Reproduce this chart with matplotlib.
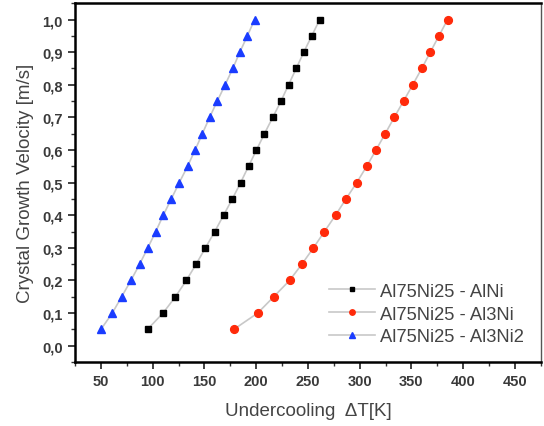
import numpy as np
import matplotlib.pyplot as plt
from matplotlib.ticker import MultipleLocator

plt.rcParams['font.family'] = ['Liberation Sans', 'DejaVu Sans']

# crystal growth velocity [m/s]
velocity = [0.05, 0.10, 0.15, 0.20, 0.25, 0.30, 0.35, 0.40, 0.45, 0.50,
            0.55, 0.60, 0.65, 0.70, 0.75, 0.80, 0.85, 0.90, 0.95, 1.00]

# undercooling dT [K] for each phase
dT_alni = [95, 110, 122, 132.5, 142, 151, 160, 168.5, 177, 185,
           192.6, 200.3, 208, 216, 224, 231.3, 238.7, 246, 253.7, 261.4]
dT_al3ni = [178.5, 201.5, 217, 232.3, 244.2, 255.4, 266, 276.7, 286.8, 297.2,
            306.8, 315.8, 324.7, 333.4, 342.4, 351.3, 360, 368.3, 376.6, 385]
dT_al3ni2 = [50, 61, 70, 79, 87.4, 95.3, 103, 110.2, 118, 125.7,
             133.7, 141, 148, 155, 162.4, 170, 177.4, 184.2, 191.5, 198.5]

labels = ["Al75Ni25 - AlNi", "Al75Ni25 - Al3Ni", "Al75Ni25 - Al3Ni2"]

fig = plt.figure(figsize=(5.44, 4.27), dpi=100)
ax = fig.add_axes([0.138, 0.15, 0.856, 0.84])

line_kw = dict(color="#c8c8c8", lw=1.2)
ax.plot(dT_alni, velocity, **line_kw, marker="s", ms=5, mfc="black", mec="black", label=labels[0])
ax.plot(dT_al3ni, velocity, **line_kw, marker="o", ms=5.6, mfc="#ff2a0a", mec="#ff2a0a", label=labels[1])
ax.plot(dT_al3ni2, velocity, **line_kw, marker="^", ms=6, mfc="#1a3cff", mec="#1a3cff", label=labels[2])

ax.set_xlim(25, 475)
ax.set_ylim(-0.05, 1.05)
ax.xaxis.set_major_locator(MultipleLocator(50))
ax.xaxis.set_minor_locator(MultipleLocator(25))
ax.yaxis.set_major_locator(MultipleLocator(0.1))
ax.yaxis.set_minor_locator(MultipleLocator(0.05))
ax.yaxis.set_major_formatter(lambda v, p: f"{v:.1f}".replace(".", ","))

ax.tick_params(which="major", direction="out", length=5, width=1.3, colors="#333333",
               labelsize=10.5, labelcolor="#3a3a3a", top=False, right=False, pad=4)
ax.tick_params(which="minor", direction="out", length=3, width=1.0, colors="#333333",
               top=False, right=False)
for lbl in ax.get_xticklabels() + ax.get_yticklabels():
    lbl.set_fontweight("bold")

for s in ["left", "bottom", "top"]:
    ax.spines[s].set_linewidth(1.8)
ax.spines["right"].set_linewidth(1.0)
ax.spines["right"].set_color("#555555")

ax.set_xlabel("Undercooling  \u0394T[K]", fontsize=13.5, color="#444444", labelpad=10)
ax.set_ylabel("Crystal Growth Velocity [m/s]", fontsize=13.5, color="#444444", labelpad=6)

ax.legend(loc="lower right", bbox_to_anchor=(1.0, 0.0), frameon=False, fontsize=13.2,
          handlelength=2.5, labelcolor="#444444", handletextpad=0.3, labelspacing=0.32,
          markerscale=0.7)

fig.savefig("out.png", dpi=100)
